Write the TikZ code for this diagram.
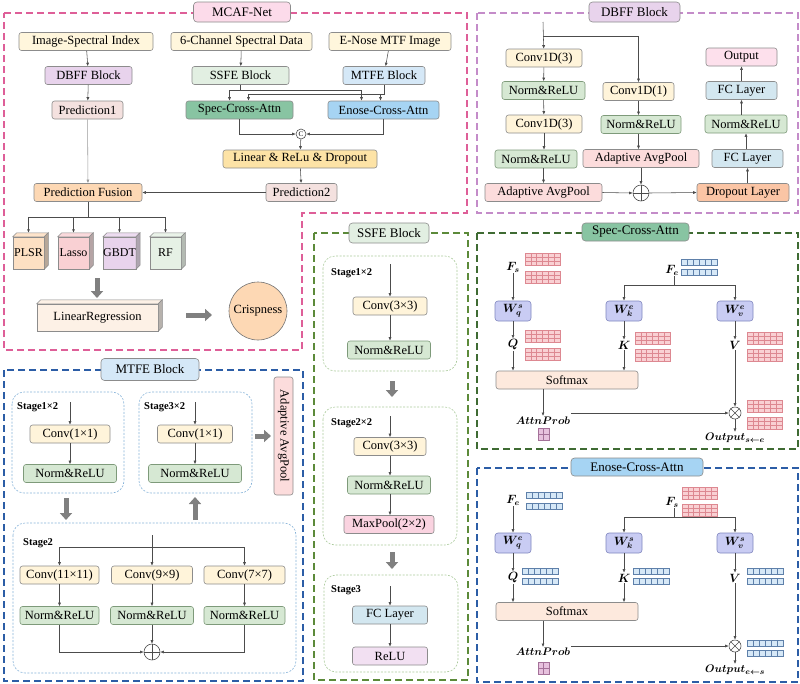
\documentclass[tikz,border=0pt]{standalone}
\usepackage{fontspec}
\setmainfont{Liberation Serif}
\usepackage{amsmath,bm}
\usetikzlibrary{arrows.meta}

\definecolor{inc}{HTML}{FFF6DC}
\definecolor{convc}{HTML}{FFF4DA}
\definecolor{normc}{HTML}{D6E8D3}
\definecolor{normd}{HTML}{7E9A7A}
\definecolor{lavc}{HTML}{E8D3EC}
\definecolor{ssfec}{HTML}{E2EFE2}
\definecolor{mtfec}{HTML}{D5E8F7}
\definecolor{predc}{HTML}{F4E1DF}
\definecolor{specc}{HTML}{88C4A2}
\definecolor{enosec}{HTML}{A6D4F3}
\definecolor{linc}{HTML}{FDE3A6}
\definecolor{fusc}{HTML}{FDD8B4}
\definecolor{ttlpink}{HTML}{FCDBEA}
\definecolor{outc}{HTML}{FDE0EC}
\definecolor{adpc}{HTML}{FCDCDC}
\definecolor{dropc}{HTML}{FBC5A5}
\definecolor{fcc}{HTML}{D3E7F0}
\definecolor{maxc}{HTML}{FAD3E0}
\definecolor{reluc}{HTML}{F2E0F2}
\definecolor{wc}{HTML}{C9CCF3}
\definecolor{wd}{HTML}{7F86BE}
\definecolor{smc}{HTML}{FDE9DD}
\definecolor{lrc}{HTML}{FDF1E6}
\definecolor{mcafc}{HTML}{DE5F98}
\definecolor{dbffc}{HTML}{C48CC9}
\definecolor{ssfed}{HTML}{5C8A3A}
\definecolor{specd}{HTML}{3F6B33}
\definecolor{blued}{HTML}{2C5DA6}
\definecolor{stgreen}{HTML}{A9C99A}
\definecolor{stblue}{HTML}{86B2D8}
\definecolor{matpink}{HTML}{F9D0D3}
\definecolor{matpinkln}{HTML}{DD8891}
\definecolor{matblue}{HTML}{D6E8F7}
\definecolor{matblueln}{HTML}{5E80AA}
\definecolor{matattn}{HTML}{E7C1DE}
\definecolor{matattnln}{HTML}{A47199}

\newcommand{\mainsz}{\fontsize{12.5}{14}\selectfont}

% little feature maps
\newcommand{\pinkmat}[2]{%
  \begin{scope}[shift={(#1,#2)}]
    \fill[matpink] (0,0) rectangle (35,12);
    \foreach \i in {1,...,5} \draw[matpinkln, line width=0.5pt] (\i*35/6,0) -- (\i*35/6,12);
    \foreach \j in {4,8} \draw[matpinkln, line width=0.5pt] (0,\j) -- (35,\j);
    \draw[matpinkln, line width=0.6pt] (0,0) rectangle (35,12);
  \end{scope}}
\newcommand{\bluemat}[2]{%
  \begin{scope}[shift={(#1,#2)}]
    \fill[matblue] (0,0) rectangle (36,6);
    \foreach \i in {1,...,5} \draw[matblueln, line width=0.5pt] (\i*6,0) -- (\i*6,6);
    \draw[matblueln, line width=0.6pt] (0,0) rectangle (36,6);
  \end{scope}}
\newcommand{\attnmat}[2]{%
  \begin{scope}[shift={(#1,#2)}]
    \fill[matattn] (0,0) rectangle (11,12);
    \draw[matattnln, line width=0.5pt] (5.5,0) -- (5.5,12) (0,6) -- (11,6);
    \draw[matattnln, line width=0.6pt] (0,0) rectangle (11,12);
  \end{scope}}
% 3d faces of a block
\newcommand{\cubeside}[3]{%
  \filldraw[fill=#2, draw=black!45, line width=0.5pt] (#1.north west) -- ([shift={(4pt,4pt)}]#1.north west)
    -- ([shift={(4pt,4pt)}]#1.north east) -- (#1.north east) -- cycle;
  \filldraw[fill=#3, draw=black!45, line width=0.5pt] (#1.north east) -- ([shift={(4pt,4pt)}]#1.north east)
    -- ([shift={(4pt,4pt)}]#1.south east) -- (#1.south east) -- cycle;}

\tikzset{
  box/.style={draw=black!45, rounded corners=2.5pt, line width=0.6pt, minimum height=18pt, inner sep=1pt, font=\mainsz},
  inb/.style={box, fill=inc},
  convb/.style={box, fill=convc},
  normb/.style={box, fill=normc, draw=normd},
  fcb/.style={box, fill=fcc},
  adpb/.style={box, fill=adpc},
  wbox/.style={box, fill=wc, draw=wd, minimum width=36pt, minimum height=20pt, rounded corners=3pt, font=\fontsize{12}{14}\selectfont},
  ttl/.style={box, rounded corners=3.5pt, minimum height=20pt, font=\fontsize{13}{15}\selectfont},
  mlab/.style={inner sep=1pt, font=\fontsize{12}{14}\selectfont},
  slab/.style={inner sep=1pt, font=\fontsize{11}{13}\selectfont},
  stlab/.style={anchor=west, inner sep=0pt, font=\fontsize{10.5}{12}\selectfont\bfseries},
  ln/.style={draw=black!70, line width=0.55pt},
  arr/.style={ln, -{Latex[length=3.5pt,width=3pt]}},
  bigarr/.style={draw=black!50, line width=5pt, -{Triangle[length=7pt,width=12pt]}},
  outerbox/.style={line width=1.1pt, dash pattern=on 7pt off 4pt},
  stagebox/.style={rounded corners=12pt, line width=0.6pt, dash pattern=on 2pt off 1.5pt},
  cube/.style={draw=black!45, line width=0.5pt, minimum width=31pt, minimum height=32pt, inner sep=0pt, font=\fontsize{12}{14}\selectfont},
  opc/.style={circle, draw=black!70, line width=0.6pt, inner sep=0pt},
}

\begin{document}
\begin{tikzpicture}[x=1pt,y=-1pt]
\useasboundingbox (0,0) rectangle (800,683);

% ---------------- outer frames
\draw[outerbox, draw=mcafc] (4,13) -- (467,13) -- (467,213) -- (302,213) -- (302,350) -- (4,350) -- cycle;
\draw[outerbox, draw=dbffc] (477,13) rectangle (798,213);
\draw[outerbox, draw=ssfed] (314,233) rectangle (468,680);
\draw[outerbox, draw=specd] (477,233) rectangle (798,449);
\draw[outerbox, draw=blued] (477,468) rectangle (798,682);
\draw[outerbox, draw=blued] (4,370) rectangle (303,681);

% ---------------- MCAF-Net
\node[ttl, fill=ttlpink, minimum width=97pt] (mcaft) at (242,12) {MCAF-Net};
\node[inb, minimum width=134pt] (isi) at (86,41.5) {Image-Spectral Index};
\node[inb, minimum width=141pt] (scd) at (241.5,41.5) {6-Channel Spectral Data};
\node[inb, minimum width=122pt] (mtf) at (390,41.5) {E-Nose MTF Image};
\node[box, fill=lavc, minimum width=87pt] (dbffm) at (88.5,75.5) {DBFF Block};
\node[box, fill=ssfec, minimum width=97pt] (ssfem) at (240.5,75.5) {SSFE Block};
\node[box, fill=mtfec, minimum width=82pt] (mtfem) at (384,75.5) {MTFE Block};
\node[box, fill=predc, minimum width=71pt] (pred1) at (87.5,110) {Prediction1};
\node[box, fill=specc, minimum width=107pt] (spec) at (239.5,110) {Spec-Cross-Attn};
\node[box, fill=enosec, minimum width=111pt] (enose) at (383.5,110) {Enose-Cross-Attn};
\node[opc, minimum size=10pt, font=\fontsize{7}{8}\selectfont] (cat) at (301,134) {C};
\node[box, fill=linc, minimum width=154pt] (lin) at (300,159) {Linear \& ReLu \& Dropout};
\node[box, fill=predc, minimum width=71pt] (pred2) at (301.5,192.5) {Prediction2};
\node[box, fill=fusc, minimum width=108pt] (fusion) at (88,192.5) {Prediction Fusion};

\draw[arr] (isi) -- (dbffm);
\draw[arr] (scd) -- (ssfem);
\draw[arr] (mtf) -- (mtfem);
\draw[arr] (dbffm) -- (pred1);
\draw[arr, draw=black!40] (pred1) -- (fusion);
\draw[arr] (ssfem.south) -- ++(0,5) -| ([xshift=-10pt]spec.north);
\draw[arr] (ssfem.south) -- ++(0,5) -| ([xshift=-22pt]enose.north);
\draw[arr] (mtfem.south) -- ++(0,9) -| ([xshift=9pt]spec.north);
\draw[arr] (mtfem.south) -- ++(0,9) -| ([xshift=-3pt]enose.north);
\draw[arr] (spec.south) |- (cat.west);
\draw[arr] (enose.south) |- (cat.east);
\draw[arr] (cat) -- (lin);
\draw[arr] (lin) -- (pred2);
\draw[arr] (pred2.west) -- (fusion.east);

\node[cube, fill=fusc!80] (plsr) at (28.5,253) {PLSR};
\node[cube, fill=matpink] (lasso) at (73.5,253) {Lasso};
\node[cube, fill=lavc] (gbdt) at (119.5,253) {GBDT};
\node[cube, fill=normc!60] (rf) at (165.5,253) {RF};
\cubeside{plsr}{fusc!70}{fusc!60!black!70}
\cubeside{lasso}{matpink!80}{matpink!60!black!70}
\cubeside{gbdt}{lavc!80}{lavc!60!black!70}
\cubeside{rf}{normc!50}{normc!60!black!60}
\draw[ln] (fusion.south) -- ++(0,15) coordinate (fb);
\foreach \m in {plsr,lasso,gbdt,rf}
  \draw[arr] (fb) -| ([yshift=4pt]\m.north);

\node[cube, fill=lrc, minimum width=121pt, minimum height=27pt, font=\mainsz] (linreg) at (97.5,317.5) {LinearRegression};
\cubeside{linreg}{lrc}{lrc!60!black!70}
\node[circle, draw=black!55, line width=0.6pt, fill=fusc, minimum size=58pt, inner sep=0pt, font=\mainsz] (crisp) at (258,311) {Crispness};
\draw[bigarr] (97,278) -- (97,298);
\draw[bigarr] (186,315) -- (212,315);

% ---------------- DBFF Block
\node[ttl, fill=lavc, minimum width=91pt] (dbfft) at (634.5,12) {DBFF Block};
\coordinate (din) at (543,22);
\coordinate (dsplit) at (543,36);
\node[convb, minimum width=76pt] (c3a) at (544,58) {Conv1D(3)};
\node[normb, minimum width=83pt] (n1) at (543.5,90.5) {Norm\&ReLU};
\node[convb, minimum width=76pt] (c3b) at (544,124) {Conv1D(3)};
\node[normb, minimum width=82pt] (n2) at (536,159) {Norm\&ReLU};
\node[adpb, minimum width=117pt] (apl) at (543.5,192.5) {Adaptive AvgPool};
\node[convb, minimum width=71pt] (c1) at (638.5,91.5) {Conv1D(1)};
\node[normb, minimum width=80pt] (n3) at (641,124.5) {Norm\&ReLU};
\node[adpb, minimum width=116pt] (apm) at (641,158.5) {Adaptive AvgPool};
\node[opc, minimum size=16pt] (plus) at (641,193) {};
\draw[ln] (plus.north) -- (plus.south) (plus.west) -- (plus.east);
\node[box, fill=dropc, minimum width=92pt] (drop) at (743,192.5) {Dropout Layer};
\node[fcb, minimum width=71pt] (fc1) at (747.5,158.5) {FC Layer};
\node[normb, minimum width=82pt] (n4) at (746,124) {Norm\&ReLU};
\node[fcb, minimum width=71pt] (fc2) at (741.5,90.5) {FC Layer};
\node[box, fill=outc, minimum width=71pt] (out) at (741.5,57) {Output};

\draw[arr] (din) -- (c3a);
\draw[arr] (dsplit) -| (c1);
\draw[arr] (c3a) -- (n1);
\draw[arr] (n1) -- (c3b);
\draw[arr] (c3b.south) -- (c3b.south |- n2.north);
\draw[arr] (apl.north |- n2.south) -- (apl.north);
\draw[arr] (c1) -- (c1 |- n3.north);
\draw[arr] (c1 |- n3.south) -- (c1 |- apm.north);
\draw[arr] (apm) -- (plus);
\draw[arr] (apl.east) -- (plus.west);
\draw[arr] (plus.east) -- (drop.west);
\draw[arr] (drop.north -| fc1) -- (fc1);
\draw[arr] (fc1.north -| n4) -- (n4);
\draw[arr] (n4.north -| fc2) -- (fc2);
\draw[arr] (fc2) -- (fc2 |- out.south);

% ---------------- SSFE Block
\draw[stagebox, draw=stgreen] (323,256) rectangle (457,371);
\draw[stagebox, draw=stgreen] (323,407) rectangle (457,545);
\draw[stagebox, draw=stgreen] (324,575) rectangle (458,672);
\node[ttl, fill=ssfec, minimum width=80pt] (ssfet) at (389,233) {SSFE Block};
\node[stlab] (st1) at (331,273) {Stage1×2};
\node[stlab] (st2) at (331,423) {Stage2×2};
\node[stlab] (st3) at (331,590) {Stage3};
\coordinate (sin1) at (390,264);
\coordinate (sin2) at (390,416);
\coordinate (sin3) at (390,586);
\node[convb, minimum width=74pt] (sc1) at (390,306) {Conv(3×3)};
\node[normb, minimum width=83pt] (sn1) at (389,350) {Norm\&ReLU};
\node[convb, minimum width=72pt] (sc2) at (390,446.5) {Conv(3×3)};
\node[normb, minimum width=83pt] (sn2) at (389,485) {Norm\&ReLU};
\node[box, fill=maxc, minimum width=90pt] (mp) at (389,524.5) {MaxPool(2×2)};
\node[fcb, minimum width=75pt] (sfc) at (390,615) {FC Layer};
\node[box, fill=reluc, minimum width=75pt] (srl) at (390,656) {ReLU};
\draw[arr] (sin1) -- (sc1);
\draw[arr] (sc1) -- (sc1 |- sn1.north);
\draw[arr] (sin2) -- (sc2);
\draw[arr] (sc2) -- (sc2 |- sn2.north);
\draw[arr] (sc2 |- sn2.south) -- (sc2 |- mp.north);
\draw[arr] (sin3) -- (sfc);
\draw[arr] (sfc) -- (srl);
\draw[bigarr] (392,381) -- (392,397);
\draw[bigarr] (392,552) -- (392,569);

% ---------------- Spec-Cross-Attn
\node[ttl, fill=specc, minimum width=107pt, minimum height=18pt] (spect) at (635.5,232) {Spec-Cross-Attn};
\node[mlab] (fs1) at (513,267) {$\bm{F_s}$};
\node[mlab] (fe1) at (672,270) {$\bm{F_e}$};
\node[wbox] (wq1) at (513,311) {$\bm{W_q^s}$};
\node[wbox] (wk1) at (624,311) {$\bm{W_k^e}$};
\node[wbox] (wv1) at (735,311) {$\bm{W_v^e}$};
\node[mlab] (q1) at (513,345) {$\bm{Q}$};
\node[mlab] (k1) at (624,345) {$\bm{K}$};
\node[mlab] (v1) at (735,345) {$\bm{V}$};
\node[box, fill=smc, minimum width=142pt] (sm1) at (567,380) {Softmax};
\node[slab] (ap1) at (543,421) {$\bm{AttnProb}$};
\node[opc, minimum size=12pt] (mul1) at (735,413) {};
\draw[ln] (mul1.north west) -- (mul1.south east) (mul1.north east) -- (mul1.south west);
\node[slab] (o1) at (735,438) {$\bm{Output}_{\bm{s\leftarrow e}}$};
\draw[arr] (fs1) -- (wq1);
\draw[ln] (fe1.south -| 674,0) -- ++(0,9) coordinate (fe1s);
\draw[arr] (fe1s) -| (wk1);
\draw[arr] (fe1s) -| (wv1);
\draw[arr] (wq1) -- (q1);
\draw[arr] (wk1) -- (k1);
\draw[arr] (wv1) -- (v1);
\draw[arr] (q1) -- (q1 |- sm1.north);
\draw[arr] (k1) -- (k1 |- sm1.north);
\draw[arr] (v1) -- (mul1);
\draw[arr] (ap1 |- sm1.south) -- (ap1);
\draw[arr] (ap1.east |- mul1.west) -- (mul1.west);
\draw[arr] (mul1) -- (o1);
\pinkmat{525}{253}\pinkmat{525}{271}
\bluemat{681}{259}\bluemat{681}{269}
\pinkmat{525}{330}\pinkmat{525}{348}
\pinkmat{635}{332}\pinkmat{635}{349}
\pinkmat{747}{332}\pinkmat{747}{349}
\pinkmat{747}{400}\pinkmat{747}{417}
\attnmat{538}{428}

% ---------------- Enose-Cross-Attn
\node[ttl, fill=enosec, minimum width=132pt, minimum height=18pt] (enoset) at (637,467) {Enose-Cross-Attn};
\node[mlab] (fe2) at (513,500) {$\bm{F_e}$};
\node[mlab] (fs2) at (672,502) {$\bm{F_s}$};
\node[wbox] (wq2) at (513,543) {$\bm{W_q^e}$};
\node[wbox] (wk2) at (624,543) {$\bm{W_k^s}$};
\node[wbox] (wv2) at (735,543) {$\bm{W_v^s}$};
\node[mlab] (q2) at (513,578) {$\bm{Q}$};
\node[mlab] (k2) at (624,578) {$\bm{K}$};
\node[mlab] (v2) at (735,578) {$\bm{V}$};
\node[box, fill=smc, minimum width=142pt] (sm2) at (567,611.5) {Softmax};
\node[slab] (ap2) at (543,652) {$\bm{AttnProb}$};
\node[opc, minimum size=12pt] (mul2) at (735,646) {};
\draw[ln] (mul2.north west) -- (mul2.south east) (mul2.north east) -- (mul2.south west);
\node[slab] (o2) at (735,670) {$\bm{Output}_{\bm{e\leftarrow s}}$};
\draw[arr] (fe2) -- (wq2);
\draw[ln] (fs2.south -| 674,0) -- ++(0,9) coordinate (fs2s);
\draw[arr] (fs2s) -| (wk2);
\draw[arr] (fs2s) -| (wv2);
\draw[arr] (wq2) -- (q2);
\draw[arr] (wk2) -- (k2);
\draw[arr] (wv2) -- (v2);
\draw[arr] (q2) -- (q2 |- sm2.north);
\draw[arr] (k2) -- (k2 |- sm2.north);
\draw[arr] (v2) -- (mul2);
\draw[arr] (ap2 |- sm2.south) -- (ap2);
\draw[arr] (ap2.east |- mul2.west) -- (mul2.west);
\draw[arr] (mul2) -- (o2);
\bluemat{526}{492}\bluemat{526}{503}
\pinkmat{682}{487}\pinkmat{682}{504}
\bluemat{522}{568}\bluemat{522}{578}
\bluemat{633}{568}\bluemat{633}{578}
\bluemat{747}{568}\bluemat{747}{578}
\bluemat{747}{640}\bluemat{747}{650}
\attnmat{538}{662}

% ---------------- MTFE Block
\draw[stagebox, draw=stblue] (12,392) rectangle (124,493);
\draw[stagebox, draw=stblue] (139,392) rectangle (252,493);
\draw[stagebox, draw=stblue] (13,523) rectangle (296,673);
\node[ttl, fill=mtfec, minimum width=98pt, minimum height=22pt] (mtfet) at (150,369.5) {MTFE Block};
\node[stlab] (mst1) at (17,407) {Stage1×2};
\node[stlab] (mst3) at (144,407) {Stage3×2};
\node[stlab] (mst2) at (23,543) {Stage2};
\coordinate (min1) at (70,402);
\coordinate (min3) at (195,402);
\node[convb, minimum width=80pt] (mc1) at (70,434) {Conv(1×1)};
\node[normb, minimum width=93pt] (mn1) at (70,473.5) {Norm\&ReLU};
\node[convb, minimum width=75pt] (mc3) at (195,434) {Conv(1×1)};
\node[normb, minimum width=93pt] (mn3) at (195,473.5) {Norm\&ReLU};
\node[adpb, rotate=-90, minimum width=118pt, minimum height=19pt] (map) at (283.5,436) {Adaptive AvgPool};
\draw[arr] (min1) -- (mc1);
\draw[arr] (mc1) -- (mn1);
\draw[arr] (min3) -- (mc3);
\draw[arr] (mc3) -- (mn3);
\draw[bigarr] (66,498) -- (66,520);
\draw[bigarr] (195,520) -- (195,497);
\draw[bigarr] (255,436) -- (271,436);

\coordinate (m2in) at (152,535);
\coordinate (m2s) at (152,547);
\node[convb, minimum width=79pt] (mc11) at (59.5,575) {Conv(11×11)};
\node[convb, minimum width=81pt] (mc9) at (152,575) {Conv(9×9)};
\node[convb, minimum width=81pt] (mc7) at (244.5,575) {Conv(7×7)};
\node[normb, minimum width=79pt] (mn11) at (59.5,615.5) {Norm\&ReLU};
\node[normb, minimum width=83pt] (mn9) at (152,615.5) {Norm\&ReLU};
\node[normb, minimum width=81pt] (mn7) at (244.5,615.5) {Norm\&ReLU};
\node[opc, minimum size=16pt] (mplus) at (152,652) {};
\draw[ln] (mplus.north) -- (mplus.south) (mplus.west) -- (mplus.east);
\draw[arr] (m2in) -- (mc9);
\draw[arr] (m2s) -| (mc11);
\draw[arr] (m2s) -| (mc7);
\draw[arr] (mc11) -- (mn11);
\draw[arr] (mc9) -- (mn9);
\draw[arr] (mc7) -- (mn7);
\draw[arr] (mn11) |- (mplus.west);
\draw[arr] (mn7) |- (mplus.east);
\draw[arr] (mn9) -- (mplus);
\end{tikzpicture}
\end{document}
